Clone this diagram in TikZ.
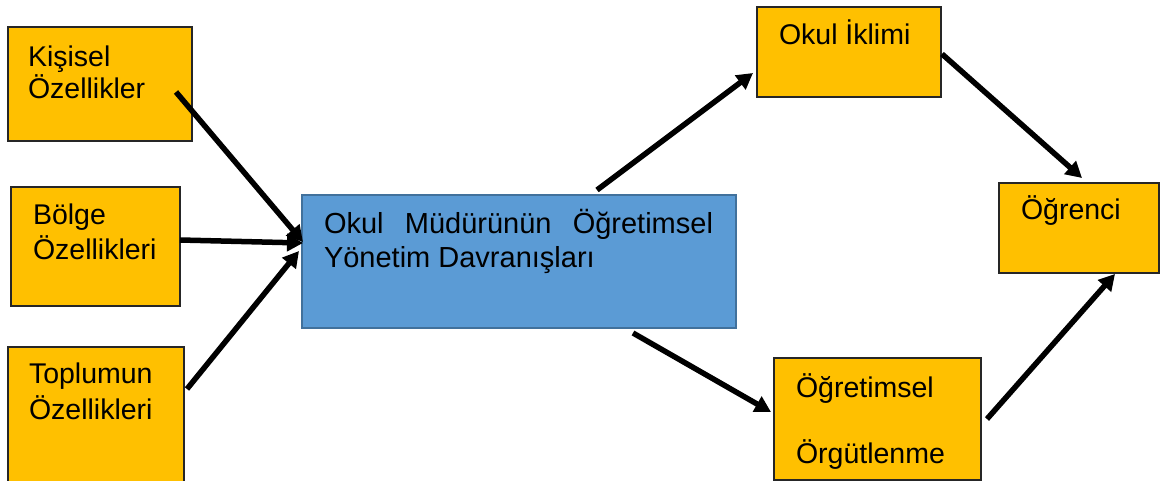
\documentclass[tikz,border=0pt]{standalone}
\usepackage{fontspec}
\setmainfont{Liberation Sans}
\usetikzlibrary{arrows.meta}
\definecolor{boxorange}{HTML}{FFC000}
\definecolor{boxblue}{HTML}{5B9BD5}
\definecolor{blueedge}{HTML}{41719C}
\definecolor{edgegray}{HTML}{262626}
\begin{document}
\begin{tikzpicture}[x=1pt,y=-1pt,
  factor/.style={draw=edgegray, line width=1.5pt, fill=boxorange, anchor=north west, inner sep=0pt, outer sep=0pt},
  core/.style={draw=blueedge, line width=2pt, fill=boxblue, anchor=north west, inner sep=0pt, outer sep=0pt},
  boxtext/.style={anchor=base west, inner sep=0pt, outer sep=0pt, align=left},
  flow/.style={line width=5.5pt, -{Triangle[length=16pt,width=17pt]}}]
  \useasboundingbox (0,0) rectangle (1162,481);

  % boxes
  \node[factor, minimum width=184pt, minimum height=114pt] (kis) at (8,27) {};
  \node[factor, minimum width=169pt, minimum height=119pt] (bol) at (11,187) {};
  \node[factor, minimum width=176pt, minimum height=140pt] (top) at (8,347) {};
  \node[core, minimum width=434pt, minimum height=133pt] (mud) at (302,195) {};
  \node[factor, minimum width=184pt, minimum height=90pt] (ikl) at (757,7) {};
  \node[factor, minimum width=160pt, minimum height=90pt] (ogr) at (999,183) {};
  \node[factor, minimum width=207pt, minimum height=122pt] (org) at (774,358) {};

  % texts (anchored at the baseline of their last line)
  \node[boxtext, font=\fontsize{28.5}{32.5}\selectfont] (kisT) at (28,99) {Kişisel\\Özellikler};
  \node[boxtext, font=\fontsize{28.5}{35}\selectfont] (bolT) at (33,259) {Bölge\\Özellikleri};
  \node[boxtext, font=\fontsize{28.5}{36}\selectfont] (topT) at (29,419) {Toplumun\\Özellikleri};
  \node[boxtext, font=\fontsize{29}{35}\selectfont] (mudT) at (324,268)
    {\makebox[389pt][s]{Okul Müdürünün Öğretimsel}\\Yönetim Davranışları};
  \node[boxtext, font=\fontsize{28.5}{34}\selectfont] (iklT) at (779,45) {Okul İklimi};
  \node[boxtext, font=\fontsize{28.5}{34}\selectfont] (ogrT) at (1021,220) {Öğrenci};
  \node[boxtext, font=\fontsize{28.5}{33}\selectfont] (orgT) at (796,463) {Öğretimsel\\[33pt]Örgütlenme};

  % connector ends
  \coordinate (kisOut) at (176,92);
  \coordinate (mudIn1) at (303,242);
  \coordinate (bolOut) at (180,240);
  \coordinate (mudIn2) at (303,243);
  \coordinate (topOut) at (187,389);
  \coordinate (mudIn3) at (299,251);
  \coordinate (mudOut1) at (597,190);
  \coordinate (iklIn) at (753,73);
  \coordinate (iklOut) at (942,54);
  \coordinate (ogrIn1) at (1082,178);
  \coordinate (mudOut2) at (633,333);
  \coordinate (orgIn) at (771,412);
  \coordinate (orgOut) at (987,419);
  \coordinate (ogrIn2) at (1115,274);

  % connectors
  \draw[flow] (kisOut) -- (mudIn1);
  \draw[flow] (bolOut) -- (mudIn2);
  \draw[flow] (topOut) -- (mudIn3);
  \draw[flow] (mudOut1) -- (iklIn);
  \draw[flow] (iklOut) -- (ogrIn1);
  \draw[flow] (mudOut2) -- (orgIn);
  \draw[flow] (orgOut) -- (ogrIn2);
\end{tikzpicture}
\end{document}
